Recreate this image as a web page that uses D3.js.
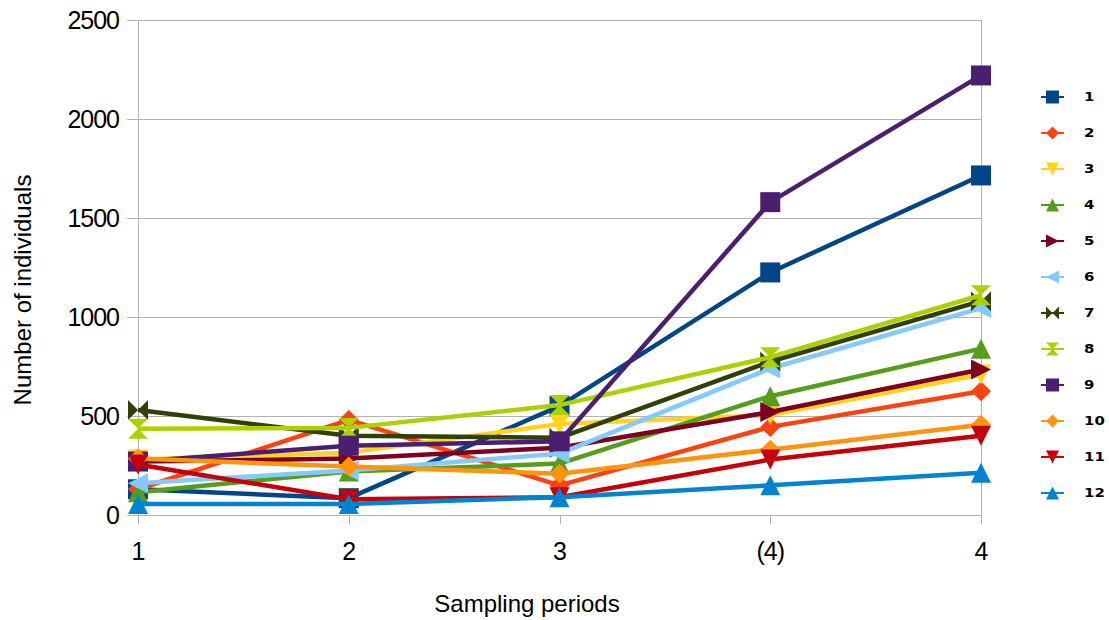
<!DOCTYPE html>
<html><head><meta charset="utf-8">
<script src="https://cdn.jsdelivr.net/npm/d3@7"></script>
<style>body{margin:0;background:#fff}</style>
</head><body>
<svg id="c" width="1109" height="620"></svg>
<script>
const categories = ["1", "2", "3", "(4)", "4"];
const seriesNames = ["1","2","3","4","5","6","7","8","9","10","11","12"];
const s1  = [130, 85, 550, 1225, 1715];
const s2  = [130, 480, 150, 445, 625];
const s3  = [280, 315, 460, 505, 710];
const s4  = [115, 220, 260, 600, 840];
const s5  = [270, 285, 340, 520, 735];
const s6  = [160, 225, 310, 740, 1045];
const s7  = [530, 400, 390, 775, 1080];
const s8  = [435, 440, 555, 797, 1110];
const s9  = [270, 350, 372, 1580, 2220];
const s10 = [285, 245, 208, 330, 456];
const s11 = [255, 80, 90, 280, 400];
const s12 = [55, 55, 90, 150, 213];
const seriesValues = [s1,s2,s3,s4,s5,s6,s7,s8,s9,s10,s11,s12];
const colors = ["#004586","#ff420e","#ffd320","#579d1c","#7e0021","#83caff","#314004","#aecf00","#4b1f6f","#ff950e","#c5000b","#0084d1"];
const shapes = ["square","diamond","down","up","right","left","bowtie","hourglass","square","diamond","down","up"];
const yTicks = [0, 500, 1000, 1500, 2000, 2500];

function shapePath(t, r) {
  switch (t) {
    case "square": return `M${-r},${-r}H${r}V${r}H${-r}Z`;
    case "diamond": return `M0,${-r}L${r},0L0,${r}L${-r},0Z`;
    case "down": return `M${-r},${-r}H${r}L0,${r}Z`;
    case "up": return `M${-r},${r}H${r}L0,${-r}Z`;
    case "right": return `M${-r},${-r}L${r},0L${-r},${r}Z`;
    case "left": return `M${r},${-r}L${-r},0L${r},${r}Z`;
    case "bowtie": return `M${-r},${-r}L0,0L${-r},${r}Z M${r},${-r}L0,0L${r},${r}Z`;
    case "hourglass": return `M${-r},${-r}H${r}L0,0Z M${-r},${r}H${r}L0,0Z`;
  }
}

const svg = d3.select("#c");
const x = d3.scalePoint().domain(categories).range([138, 981]).padding(0);
const y = d3.scaleLinear().domain([0, 2500]).range([515, 20]);
const grid = "#b3b3b3";
const FONT = "Liberation Sans, Arial, sans-serif";

svg.append("g").selectAll("line").data(yTicks).join("line")
  .attr("x1", 127).attr("x2", 981).attr("y1", d => Math.round(y(d)) + 0.5).attr("y2", d => Math.round(y(d)) + 0.5)
  .attr("stroke", grid).attr("stroke-width", 1);
svg.append("line").attr("x1",138.5).attr("x2",138.5).attr("y1",y(2500)).attr("y2",524).attr("stroke",grid);
svg.append("line").attr("x1",981.5).attr("x2",981.5).attr("y1",y(2500)).attr("y2",524).attr("stroke",grid);
svg.append("g").selectAll("line").data(categories).join("line")
  .attr("x1", d => Math.round(x(d)) + 0.5).attr("x2", d => Math.round(x(d)) + 0.5).attr("y1", 515).attr("y2", 524)
  .attr("stroke", grid);

svg.append("g").selectAll("text").data(yTicks).join("text")
  .attr("x", 119).attr("y", d => y(d) + 9).attr("text-anchor","end")
  .attr("font-family", FONT).attr("font-size", 25).attr("letter-spacing", -1).attr("fill","#000")
  .text(d => d);
svg.append("g").selectAll("text").data(categories).join("text")
  .attr("x", d => x(d)).attr("y", 560).attr("text-anchor","middle")
  .attr("font-family", FONT).attr("font-size", 25).attr("letter-spacing", -1).attr("fill","#000")
  .text(d => d);

svg.append("text").attr("transform","translate(31,290) rotate(-90)").attr("text-anchor","middle")
  .attr("font-family", FONT).attr("font-size", 24).attr("fill","#000").text("Number of individuals");
svg.append("text").attr("x", 527).attr("y", 612).attr("text-anchor","middle")
  .attr("font-family", FONT).attr("font-size", 24).attr("fill","#000").text("Sampling periods");

const line = d3.line().x((d,i) => x(categories[i])).y(d => y(d));
seriesValues.forEach((vals, si) => {
  const g = svg.append("g");
  g.append("path").attr("d", line(vals)).attr("fill","none")
    .attr("stroke", colors[si]).attr("stroke-width", 4.5).attr("stroke-linejoin","round");
  g.selectAll("path.m").data(vals).join("path").attr("class","m")
    .attr("transform", (d,i) => `translate(${x(categories[i])},${y(d)})`)
    .attr("d", shapePath(shapes[si], 10)).attr("fill", colors[si]);
});

const lg = svg.append("g");
seriesNames.forEach((n, i) => {
  const ly = 97 + i * 36;
  lg.append("line").attr("x1",1041).attr("x2",1064).attr("y1",ly).attr("y2",ly)
    .attr("stroke", colors[i]).attr("stroke-width", 2);
  lg.append("path").attr("transform",`translate(1052.5,${ly})`).attr("d", shapePath(shapes[i], 6.5)).attr("fill", colors[i]);
  lg.append("text").attr("transform", `translate(1084,${ly + 4}) scale(1.3,1)`)
    .attr("font-family","DejaVu Sans, sans-serif").attr("font-weight","bold").attr("font-size", 11.5).attr("fill","#000").text(n);
});
</script>
</body></html>
